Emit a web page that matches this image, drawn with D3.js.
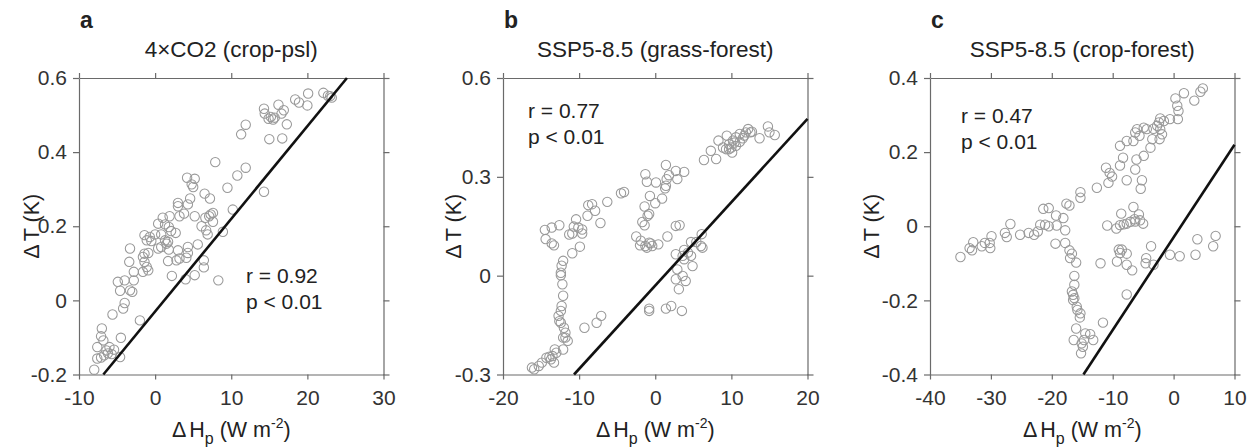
<!DOCTYPE html>
<html>
<head>
<meta charset="utf-8">
<script src="https://cdn.jsdelivr.net/npm/d3@7"></script>
<style>
body { margin: 0; background: #fff; }
text { font-family: "Liberation Sans", Arial, Helvetica, sans-serif; fill: #222; }
.axis path, .axis line { stroke: #6a6a6a; stroke-width: 1.2; }
.axis text { font-size: 21px; fill: #333; }
</style>
</head>
<body>
<div id="chart"></div>
<script>
// ---- data ----
var titles = ["4\u00D7CO2 (crop-psl)", "SSP5-8.5 (grass-forest)", "SSP5-8.5 (crop-forest)"];
var letters = ["a", "b", "c"];
var stats = [["r = 0.92", "p < 0.01"], ["r = 0.77", "p < 0.01"], ["r = 0.47", "p < 0.01"]];

var xTicksA = [-10, 0, 10, 20, 30];
var yTicksA = [-0.2, 0, 0.2, 0.4, 0.6];
var xTicksB = [-20, -10, 0, 10, 20];
var yTicksB = [-0.3, 0, 0.3, 0.6];
var xTicksC = [-40, -30, -20, -10, 0, 10];
var yTicksC = [-0.4, -0.2, 0, 0.2, 0.4];

// fitted line: [slope, intercept]
var fitA = [0.025, -0.03];
var fitB = [0.0253, -0.03];
var fitC = [0.025, -0.03];

var ptsA = [[22.1,0.560],[20.1,0.558],[18.4,0.542],[18.9,0.534],[20.0,0.526],[22.7,0.552],[23.2,0.547],[23.0,0.551],
[16.2,0.528],[14.3,0.517],[14.4,0.504],[15.2,0.495],[15.7,0.493],[16.6,0.504],[16.9,0.513],[14.9,0.490],[15.5,0.488],
[17.3,0.475],[15.0,0.435],[16.7,0.437],[11.9,0.474],[11.3,0.448],[7.9,0.373],[11.9,0.358],[10.8,0.337],[9.5,0.304],
[14.3,0.293],[10.2,0.245],[4.2,0.331],[5.2,0.328],[4.8,0.313],[5.0,0.306],[6.5,0.288],[7.2,0.275],[4.6,0.275],
[3.0,0.263],[3.0,0.254],[4.3,0.259],[5.2,0.227],[6.6,0.223],[7.3,0.232],[7.6,0.236],[7.1,0.227],[6.1,0.200],
[6.7,0.189],[6.9,0.178],[8.9,0.185],[7.6,0.212],[3.8,0.234],[3.2,0.227],[1.9,0.227],[1.0,0.223],[1.3,0.205],
[0.4,0.207],[1.8,0.198],[2.1,0.187],[2.7,0.182],[0.8,0.178],[0.0,0.178],[-0.7,0.171],[-1.4,0.176],[-1.1,0.162],
[-0.5,0.160],[1.3,0.162],[1.5,0.153],[1.7,0.158],[0.8,0.144],[0.4,0.140],[1.8,0.137],[3.0,0.135],[4.3,0.144],
[5.6,0.151],[3.2,0.113],[4.1,0.115],[1.7,0.106],[2.8,0.108],[4.3,0.128],[6.4,0.108],[6.4,0.089],[5.2,0.068],
[4.0,0.057],[2.2,0.066],[8.3,0.054],[-3.3,0.140],[-1.4,0.126],[-1.6,0.117],[-0.9,0.128],[-1.4,0.104],[-1.1,0.090],
[-0.9,0.081],[-1.6,0.077],[-3.4,0.104],[-2.8,0.077],[-4.0,0.054],[-4.9,0.050],[-2.8,0.054],[-4.6,0.026],[-3.3,0.027],
[-3.0,0.023],[-4.0,-0.007],[-4.2,-0.022],[-5.6,-0.038],[-2.0,-0.054],[-7.0,-0.076],[-7.1,-0.097],[-6.8,-0.108],
[-4.5,-0.101],[-7.6,-0.126],[-6.4,-0.135],[-6.0,-0.126],[-5.4,-0.133],[-6.7,-0.148],[-6.2,-0.143],[-5.7,-0.145],
[-4.6,-0.153],[-7.6,-0.157],[-7.1,-0.154],[-8.0,-0.187]];

var ptsB = [[14.8,0.453],[15.7,0.427],[15.0,0.435],[13.7,0.417],[12.2,0.445],[12.5,0.435],[12.7,0.437],[11.9,0.435],
[11.7,0.425],[11.5,0.417],[11.1,0.430],[10.6,0.420],[11.1,0.406],[10.4,0.404],[10.2,0.410],[9.7,0.399],[9.4,0.425],
[8.3,0.410],[8.9,0.389],[9.7,0.384],[10.1,0.374],[10.0,0.389],[9.3,0.384],[10.6,0.394],[7.3,0.379],[8.0,0.354],
[6.4,0.351],[1.4,0.336],[2.7,0.318],[3.8,0.315],[-1.3,0.308],[-1.1,0.285],[0.1,0.283],[1.8,0.305],[1.5,0.293],
[2.9,0.293],[1.4,0.273],[1.3,0.265],[0.9,0.234],[-0.7,0.242],[0.0,0.220],[-1.4,0.210],[-0.8,0.187],[-1.0,0.182],
[-1.7,0.163],[-1.4,0.153],[2.7,0.151],[3.2,0.153],[-2.5,0.119],[-1.9,0.106],[-2.0,0.092],[-1.3,0.090],[-1.1,0.085],
[-0.8,0.100],[-0.6,0.098],[-0.4,0.090],[0.4,0.095],[1.6,0.119],[-4.1,0.254],[-4.5,0.250],[-6.3,0.224],[-8.8,0.214],
[-8.3,0.217],[-7.9,0.197],[-8.9,0.182],[-10.4,0.171],[-10.1,0.146],[-10.7,0.149],[-9.6,0.140],[-9.6,0.128],
[-10.9,0.128],[-11.3,0.125],[-7.2,0.160],[-12.6,0.153],[-13.6,0.146],[-14.5,0.139],[-14.4,0.111],[-13.6,0.098],
[-13.3,0.092],[-9.9,0.088],[-10.9,0.068],[-12.1,0.045],[-12.3,0.030],[-12.4,0.009],[-12.4,0.001],[-12.2,-0.026],
[-12.1,-0.061],[-12.3,-0.092],[-12.4,-0.107],[-12.7,-0.122],[-12.6,-0.138],[-12.4,-0.143],[-12.0,-0.158],
[-11.8,-0.173],[-12.1,-0.188],[-11.5,-0.198],[-11.8,-0.188],[-12.1,-0.224],[-13.2,-0.224],[-13.0,-0.234],
[-13.5,-0.244],[-13.9,-0.246],[-14.3,-0.249],[-13.7,-0.254],[-13.3,-0.264],[-14.9,-0.264],[-15.3,-0.274],
[-16.2,-0.279],[-15.9,-0.284],[-9.3,-0.158],[-7.7,-0.143],[-7.1,-0.122],[6.1,0.126],[5.4,0.102],[4.7,0.102],
[3.8,0.078],[4.3,0.070],[6.0,0.090],[6.2,0.085],[2.7,0.065],[3.6,0.060],[4.7,0.060],[4.9,0.029],[3.8,0.050],
[2.9,0.019],[2.7,-0.011],[3.6,-0.001],[4.0,-0.016],[3.1,-0.041],[-0.8,-0.100],[-0.8,-0.107],[1.4,-0.100],
[2.1,-0.092],[3.5,-0.107]];

var ptsC = [[4.8,0.372],[4.4,0.363],[3.4,0.339],[1.7,0.359],[0.3,0.345],[0.6,0.325],[0.8,0.311],[0.7,0.289],
[-0.6,0.289],[-1.6,0.284],[-2.2,0.291],[-2.4,0.280],[-2.7,0.271],[-2.2,0.262],[-1.9,0.248],[-2.3,0.235],
[-3.3,0.263],[-4.4,0.262],[-4.9,0.266],[-6.0,0.262],[-6.3,0.253],[-5.6,0.244],[-6.6,0.230],[-7.7,0.230],
[-8.8,0.217],[-3.5,0.235],[-3.8,0.212],[-4.9,0.190],[-6.1,0.180],[-8.3,0.185],[-8.8,0.164],[-6.3,0.153],
[-11.1,0.158],[-10.5,0.144],[-10.1,0.134],[-10.7,0.117],[-7.7,0.124],[-5.2,0.124],[-5.4,0.101],[-12.6,0.104],
[-15.3,0.092],[-15.3,0.077],[-17.6,0.061],[-17.1,0.056],[-21.4,0.047],[-20.5,0.049],[-19.3,0.029],[-18.1,0.022],
[-20.5,0.000],[-21.9,0.004],[-21.1,0.004],[-22.3,-0.014],[-22.9,-0.023],[-23.8,-0.018],[-25.2,-0.023],
[-26.8,0.006],[-27.7,-0.018],[-27.4,-0.029],[-29.9,-0.027],[-30.2,-0.045],[-30.1,-0.059],[-31.0,-0.045],
[-31.5,-0.054],[-32.9,-0.043],[-33.5,-0.059],[-33.1,-0.065],[-35.0,-0.083],[-19.2,0.002],[-17.8,-0.011],
[-19.4,-0.047],[-17.8,-0.045],[-17.1,-0.065],[-16.7,-0.074],[-17.0,-0.086],[-16.0,-0.098],[-16.3,-0.134],
[-16.3,-0.158],[-16.7,-0.176],[-16.5,-0.185],[-16.3,-0.194],[-16.5,-0.199],[-15.9,-0.217],[-15.8,-0.226],
[-15.3,-0.235],[-15.4,-0.246],[-16.0,-0.276],[-14.5,-0.289],[-13.7,-0.291],[-14.7,-0.307],[-15.1,-0.316],
[-16.4,-0.307],[-14.9,-0.325],[-13.2,-0.307],[-15.2,-0.343],[-11.6,-0.260],[-7.7,-0.184],[-12.0,-0.100],
[-6.6,0.052],[-8.6,0.034],[-5.7,0.032],[-10.9,0.002],[-9.4,-0.006],[-8.8,0.003],[-8.2,0.005],[-7.7,0.007],
[-7.1,0.012],[-6.3,0.013],[-5.5,0.016],[-5.0,0.007],[-6.4,0.019],[-9.0,-0.063],[-8.5,-0.063],[-8.8,-0.072],
[-7.7,-0.074],[-9.3,-0.095],[-7.7,-0.104],[-6.8,-0.119],[-4.5,-0.086],[-3.7,-0.054],[-4.6,-0.100],[-3.3,-0.104],
[-0.6,-0.077],[1.0,-0.081],[3.6,-0.077],[3.9,-0.035],[6.5,-0.054],[6.9,-0.026]];

// ---- layout ----
var svgW = 1256, svgH = 448;
var plotTop = 78, H = 296.5, W = 304.5;

var panels = [
  { left: 79,  xDom: [-10, 30], yDom: [-0.2, 0.6], xTicks: xTicksA, yTicks: yTicksA, pts: ptsA, fit: fitA, statX: 167, statY: 205, ylabX: -48 },
  { left: 503, xDom: [-20, 20], yDom: [-0.3, 0.6], xTicks: xTicksB, yTicks: yTicksB, pts: ptsB, fit: fitB, statX: 25,  statY: 40,  ylabX: -50 },
  { left: 930, xDom: [-40, 10], yDom: [-0.4, 0.4], xTicks: xTicksC, yTicks: yTicksC, pts: ptsC, fit: fitC, statX: 31,  statY: 45,  ylabX: -59 }
];

var svg = d3.select("#chart")
  .append("svg")
  .attr("width", svgW)
  .attr("height", svgH);

panels.forEach(function (p, i) {
  var g = svg.append("g")
    .attr("transform", "translate(" + p.left + "," + plotTop + ")");

  var x = d3.scaleLinear().domain(p.xDom).range([0, W]);
  var y = d3.scaleLinear().domain(p.yDom).range([H, 0]);
  var fmt = function (d) { return String(d); };

  // box with outward ticks on all four sides
  g.append("g").attr("class", "axis")
    .attr("transform", "translate(0," + H + ")")
    .call(d3.axisBottom(x).tickValues(p.xTicks).tickSize(5).tickSizeOuter(0).tickPadding(10.5).tickFormat(fmt));
  g.append("g").attr("class", "axis")
    .call(d3.axisTop(x).tickValues(p.xTicks).tickSize(5).tickSizeOuter(0).tickFormat(""));
  g.append("g").attr("class", "axis")
    .call(d3.axisLeft(y).tickValues(p.yTicks).tickSize(6).tickSizeOuter(0).tickPadding(6).tickFormat(fmt));
  g.append("g").attr("class", "axis")
    .attr("transform", "translate(" + W + ",0)")
    .call(d3.axisRight(y).tickValues(p.yTicks).tickSize(6).tickSizeOuter(0).tickFormat(""));
  g.selectAll(".axis .domain").attr("stroke", "#6a6a6a");

  // scatter
  g.selectAll("circle.pt")
    .data(p.pts)
    .enter()
    .append("circle")
    .attr("class", "pt")
    .attr("cx", function (d) { return x(d[0]); })
    .attr("cy", function (d) { return y(d[1]); })
    .attr("r", 4.7)
    .attr("fill", "none")
    .attr("stroke", "#999")
    .attr("stroke-width", 1.05);

  // regression line clipped to the box
  var k = p.fit[0], b = p.fit[1];
  var x0 = Math.max(p.xDom[0], (p.yDom[0] - b) / k);
  var x1 = Math.min(p.xDom[1], (p.yDom[1] - b) / k);
  g.append("line")
    .attr("x1", x(x0)).attr("y1", y(k * x0 + b))
    .attr("x2", x(x1)).attr("y2", y(k * x1 + b))
    .attr("stroke", "#111")
    .attr("stroke-width", 2.6);

  // r / p text
  g.append("text").attr("x", p.statX).attr("y", p.statY)
    .style("font-size", "21px").text(stats[i][0]);
  g.append("text").attr("x", p.statX).attr("y", p.statY + 26)
    .style("font-size", "21px").text(stats[i][1]);

  // title and panel letter
  g.append("text").attr("x", W / 2).attr("y", 57 - plotTop)
    .attr("text-anchor", "middle")
    .style("font-size", "22.5px").text(titles[i]);
  g.append("text").attr("x", 1).attr("y", 28 - plotTop)
    .style("font-size", "23px").style("font-weight", "bold")
    .text(letters[i]);

  // x label: ΔHp (W m-2)
  var xl = g.append("text").attr("x", W / 2).attr("y", 437 - plotTop)
    .attr("text-anchor", "middle").style("font-size", "21.5px");
  xl.append("tspan").text("\u0394");
  xl.append("tspan").attr("dx", 3).text("H");
  xl.append("tspan").attr("dy", 7).style("font-size", "16px").text("p");
  xl.append("tspan").attr("dy", -7).text(" (W m");
  xl.append("tspan").attr("dy", -9).style("font-size", "14px").text("-2");
  xl.append("tspan").attr("dy", 9).text(")");

  // y label
  var yl = g.append("text")
    .attr("transform", "translate(" + p.ylabX + "," + (H / 2) + ") rotate(-90)")
    .attr("text-anchor", "middle")
    .attr("dy", "0.35em")
    .style("font-size", "21.5px");
  yl.append("tspan").text("\u0394");
  yl.append("tspan").attr("dx", 3).text("T (K)");
});
</script>
</body>
</html>
